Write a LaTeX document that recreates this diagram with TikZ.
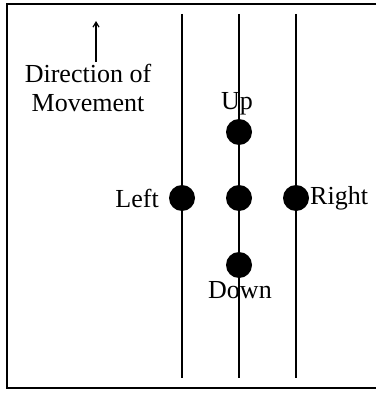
\documentclass[tikz,border=0pt]{standalone}
\usepackage{fontspec}
\setmainfont{Liberation Serif}
\usetikzlibrary{arrows.meta}
\begin{document}
\begin{tikzpicture}[x=1pt,y=-1pt,
  dot/.style={circle,fill=black,draw=none,minimum size=26pt,inner sep=0pt},
  lane/.style={line width=1.6pt},
  lbl/.style={inner sep=0pt,font=\fontsize{26}{29}\selectfont},
  frame/.style={line width=1.8pt}]
\useasboundingbox (0,0) rectangle (376,393);
% frame (right side cut off)
\draw[frame] (376,4) -- (7,4) -- (7,388) -- (376,388);
% lanes
\coordinate (lt) at (182,14); \coordinate (lb) at (182,378);
\coordinate (ct) at (239,14); \coordinate (cb) at (239,378);
\coordinate (rt) at (296,14); \coordinate (rb) at (296,378);
\draw[lane] (lt) -- (lb);
\draw[lane] (ct) -- (cb);
\draw[lane] (rt) -- (rb);
% dots
\node[dot] (up) at (239,132) {};
\node[dot] (left) at (182,198) {};
\node[dot] (mid) at (239,198) {};
\node[dot] (right) at (296,198) {};
\node[dot] (down) at (239,265) {};
% labels
\node[lbl] (lup) at (237,104) {Up};
\node[lbl] (ldown) at (240,290) {Down};
\node[lbl,anchor=east] (lleft) at (159,198) {Left};
\node[lbl,anchor=west] (lright) at (310,198) {Right};
\node[lbl,align=center] (dir) at (88,88) {Direction of\\Movement};
\coordinate (arrtip) at (96,21);
\draw[line width=1.2pt,-{Straight Barb[length=5pt,width=6pt]}] (dir.north -| arrtip) ++(0,-2) -- (arrtip);
\end{tikzpicture}
\end{document}
